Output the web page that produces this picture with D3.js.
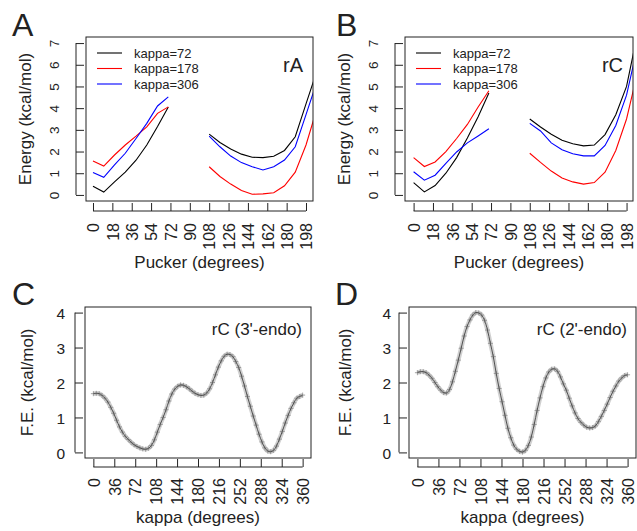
<!DOCTYPE html>
<html>
<head>
<meta charset="utf-8">
<script src="https://d3js.org/d3.v7.min.js"></script>
<style>
body { margin: 0; background: #fff; }
svg { display: block; font-family: 'Liberation Sans', Arial, Helvetica, sans-serif; }
</style>
</head>
<body>
<svg id="fig" width="637" height="531"></svg>
<script>
'use strict';

// pucker samples (degrees), two branches
const puckerLeft = [0, 10, 20, 30, 40, 50, 60, 70];
const puckerRight = [108, 118, 128, 138, 148, 158, 168, 178, 188, 198, 208];

// panel A, rA
const rA72Left = [0.40, 0.13, 0.60, 1.05, 1.60, 2.30, 3.15, 4.05];
const rA178Left = [1.56, 1.33, 1.84, 2.30, 2.71, 3.14, 3.76, 4.06];
const rA306Left = [1.03, 0.81, 1.38, 1.92, 2.60, 3.30, 4.10, 4.52];
const rA72Right = [2.80, 2.42, 2.12, 1.88, 1.74, 1.72, 1.78, 2.05, 2.68, 4.20, 5.70];
const rA178Right = [1.30, 0.85, 0.50, 0.20, 0.03, 0.05, 0.10, 0.42, 1.05, 2.30, 3.95];
const rA306Right = [2.71, 2.22, 1.79, 1.49, 1.30, 1.15, 1.30, 1.61, 2.22, 3.70, 5.20];

// panel B, rC
const rC72Left = [0.57, 0.14, 0.43, 1.00, 1.72, 2.62, 3.60, 4.70];
const rC178Left = [1.72, 1.31, 1.52, 2.00, 2.60, 3.25, 4.05, 4.80];
const rC306Left = [1.07, 0.68, 0.91, 1.45, 1.98, 2.40, 2.72, 3.05];
const rC72Right = [3.50, 3.13, 2.80, 2.52, 2.36, 2.26, 2.30, 2.78, 3.70, 5.00, 7.40];
const rC178Right = [1.92, 1.50, 1.10, 0.78, 0.60, 0.50, 0.57, 1.05, 2.05, 3.50, 5.60];
const rC306Right = [3.30, 2.95, 2.40, 2.08, 1.90, 1.80, 1.80, 2.28, 3.20, 4.60, 6.80];

// kappa samples (degrees) for the free energy profiles
const kappa = [0, 5, 10, 15, 20, 25, 30, 35, 40, 45, 50, 55, 60, 65, 70, 75, 80, 85, 90, 95,
  100, 105, 110, 115, 120, 125, 130, 135, 140, 145, 150, 155, 160, 165, 170, 175, 180, 185, 190, 195,
  200, 205, 210, 215, 220, 225, 230, 235, 240, 245, 250, 255, 260, 265, 270, 275, 280, 285, 290, 295,
  300, 305, 310, 315, 320, 325, 330, 335, 340, 345, 350, 355, 360];

const feC3endo = [1.68, 1.69, 1.68, 1.63, 1.55, 1.44, 1.29, 1.12, 0.92, 0.73,
  0.58, 0.46, 0.37, 0.29, 0.22, 0.17, 0.13, 0.10, 0.09, 0.12,
  0.20, 0.36, 0.58, 0.80, 1.00, 1.22, 1.47, 1.67, 1.81, 1.89,
  1.93, 1.92, 1.88, 1.82, 1.75, 1.69, 1.65, 1.63, 1.64, 1.70,
  1.82, 2.00, 2.22, 2.44, 2.62, 2.75, 2.81, 2.80, 2.74, 2.60,
  2.43, 2.18, 1.90, 1.60, 1.32, 1.04, 0.78, 0.52, 0.30, 0.13,
  0.04, 0.02, 0.06, 0.18, 0.38, 0.60, 0.84, 1.06, 1.26, 1.42,
  1.55, 1.60, 1.64];

const feC2endo = [2.28, 2.31, 2.31, 2.28, 2.21, 2.12, 2.00, 1.88, 1.78, 1.71,
  1.70, 1.80, 2.02, 2.32, 2.64, 2.98, 3.33, 3.60, 3.79, 3.93,
  4.00, 3.99, 3.93, 3.78, 3.50, 3.12, 2.74, 2.26, 1.83, 1.45,
  1.06, 0.69, 0.42, 0.21, 0.09, 0.03, 0.01, 0.06, 0.20, 0.44,
  0.80, 1.20, 1.56, 1.88, 2.13, 2.30, 2.38, 2.39, 2.32, 2.16,
  1.96, 1.78, 1.55, 1.33, 1.13, 0.97, 0.86, 0.78, 0.72, 0.70,
  0.71, 0.76, 0.88, 1.03, 1.20, 1.38, 1.57, 1.75, 1.90, 2.04,
  2.13, 2.20, 2.22];

const puckerTicks = [0, 18, 36, 54, 72, 90, 108, 126, 144, 162, 180, 198];
const energyTicks = [0, 1, 2, 3, 4, 5, 6, 7];
const kappaTicks = [0, 36, 72, 108, 144, 180, 216, 252, 288, 324, 360];
const feTicks = [0, 1, 2, 3, 4];
const legendLabels = ['kappa=72', 'kappa=178', 'kappa=306'];
const seriesColors = ['#000000', '#ff0000', '#0000ff'];

const ink = '#222';
const svg = d3.select('#fig');
let clipCount = 0;

function frame(g, x, y) {
	const [x0, x1] = x.range();
	const [yb, yt] = y.range();
	g.append('rect')
		.attr('x', x0).attr('y', yt)
		.attr('width', x1 - x0).attr('height', yb - yt)
		.attr('fill', 'none').attr('stroke', ink).attr('stroke-width', 1);
}

function clip(g, x, y) {
	const id = 'clip' + (clipCount++);
	const [x0, x1] = x.range();
	const [yb, yt] = y.range();
	g.append('clipPath').attr('id', id)
		.append('rect').attr('x', x0).attr('y', yt).attr('width', x1 - x0).attr('height', yb - yt);
	return g.append('g').attr('clip-path', `url(#${id})`);
}

function bottomAxis(g, x, ticks, yLine, gap, size) {
	const ax = g.append('g')
		.attr('transform', `translate(0,${yLine})`)
		.call(d3.axisBottom(x).tickValues(ticks).tickSize(-8).tickSizeOuter(0).tickFormat(d3.format('d')));
	ax.attr('font-family', null).attr('font-size', null);
	ax.select('.domain').remove();
	ax.append('line')
		.attr('x1', x(ticks[0])).attr('x2', x(ticks[ticks.length - 1]))
		.attr('stroke', ink);
	ax.selectAll('.tick line').attr('stroke', ink);
	ax.selectAll('.tick text')
		.attr('transform', 'rotate(-90)')
		.attr('x', -gap).attr('y', 0).attr('dy', '0.36em')
		.attr('text-anchor', 'end')
		.attr('fill', ink)
		.style('font-size', size + 'px');
}

function leftAxis(g, y, ticks, xLine, gap, size, rotated) {
	const ax = g.append('g')
		.attr('transform', `translate(${xLine},0)`)
		.call(d3.axisLeft(y).tickValues(ticks).tickSize(-8).tickSizeOuter(0)
			.tickPadding(gap).tickFormat(d3.format('d')));
	ax.attr('font-family', null).attr('font-size', null);
	ax.select('.domain').remove();
	ax.append('line')
		.attr('y1', y(ticks[0])).attr('y2', y(ticks[ticks.length - 1]))
		.attr('stroke', ink);
	ax.selectAll('.tick line').attr('stroke', ink);
	const txt = ax.selectAll('.tick text').attr('fill', ink).style('font-size', size + 'px');
	if (rotated) {
		txt.attr('transform', 'rotate(-90)')
			.attr('x', 0).attr('y', -gap).attr('dy', '0.36em')
			.attr('text-anchor', 'middle');
	} else {
		txt.attr('dy', '0.36em');
	}
}

function label(text, x, y, size, opts = {}) {
	const t = svg.append('text')
		.attr('x', x).attr('y', y)
		.attr('fill', opts.fill || ink)
		.attr('text-anchor', opts.anchor || 'start')
		.style('font-size', size + 'px')
		.text(text);
	if (opts.rotate) {
		t.attr('x', 0).attr('y', 0).attr('dy', '0.35em')
			.attr('transform', `translate(${x},${y}) rotate(-90)`);
	}
	return t;
}

function energyPanel(p) {
	const g = svg.append('g');
	const x = d3.scaleLinear().domain(p.xDomain).range([p.left, p.right]);
	const y = d3.scaleLinear().domain([-0.28, 7.28]).range([p.bottom, p.top]);
	const line = d3.line().x(d => x(d[0])).y(d => y(d[1]));
	const plot = clip(g, x, y);

	p.series.forEach((s, i) => {
		plot.append('path')
			.attr('d', line(d3.zip(puckerLeft, s[0])))
			.attr('fill', 'none').attr('stroke', seriesColors[i]).attr('stroke-width', 1.1);
		plot.append('path')
			.attr('d', line(d3.zip(puckerRight, s[1])))
			.attr('fill', 'none').attr('stroke', seriesColors[i]).attr('stroke-width', 1.1);
	});

	frame(g, x, y);
	bottomAxis(g, x, puckerTicks, p.bottom + 10, 12, 16);
	leftAxis(g, y, energyTicks, p.left - 10, 22, 13.5, true);

	// legend
	legendLabels.forEach((l, i) => {
		const ly = p.top + 16 + i * 15.5;
		g.append('line')
			.attr('x1', p.left + 11).attr('x2', p.left + 36)
			.attr('y1', ly).attr('y2', ly)
			.attr('stroke', seriesColors[i]).attr('stroke-width', 1.1);
		g.append('text')
			.attr('x', p.left + 48).attr('y', ly).attr('dy', '0.36em')
			.attr('fill', ink).style('font-size', '13px')
			.text(l);
	});
	label(p.tag, p.right - 10, p.top + 35, 20, { anchor: 'end' });
	label('Pucker (degrees)', (p.left + p.right) / 2, 268, 17, { anchor: 'middle' });
	label('Energy (kcal/mol)', p.left - 61, (p.top + p.bottom) / 2, 17, { anchor: 'middle', rotate: true });
	label(p.letter, p.letterX, 36, 32);
}

function fePanel(p) {
	const g = svg.append('g');
	const x = d3.scaleLinear().domain([-14.4, 374.4]).range([p.left, p.right]);
	const y = d3.scaleLinear().domain([-0.16, 4.16]).range([p.bottom, p.top]);
	const pts = d3.zip(kappa, p.values);
	const plot = clip(g, x, y);

	const curve = d3.line().x(d => x(d[0])).y(d => y(d[1])).curve(d3.curveCatmullRom);
	plot.append('path')
		.attr('d', curve(pts))
		.attr('fill', 'none').attr('stroke', '#b0b0b0').attr('stroke-width', 4.5).attr('stroke-opacity', 0.6);
	plot.append('g')
		.selectAll('path')
		.data(pts)
		.join('path')
		.attr('d', d => `M${x(d[0]) - 2.5},${y(d[1])}h5M${x(d[0])},${y(d[1]) - 2.5}v5`)
		.attr('stroke', '#8a8a8a').attr('stroke-width', 0.8).attr('fill', 'none');
	plot.append('path')
		.attr('d', curve(pts))
		.attr('fill', 'none').attr('stroke', '#505050').attr('stroke-width', 1);

	frame(g, x, y);
	bottomAxis(g, x, kappaTicks, p.bottom + 9, 11, 16);
	leftAxis(g, y, feTicks, p.left - 10, p.yPad, 15.5, false);

	label(p.tag, p.right - 9, p.top + 28, 17, { anchor: 'end' });
	label('kappa (degrees)', (p.left + p.right) / 2, 523, 17, { anchor: 'middle' });
	label('F.E. (kcal/mol)', p.titleX, (p.top + p.bottom) / 2, 17, { anchor: 'middle', rotate: true });
	label(p.letter, p.letterX, 305, 32);
}

energyPanel({
	left: 86, right: 313, top: 37, bottom: 201, xDomain: [-6.5, 204.5],
	series: [[rA72Left, rA72Right], [rA178Left, rA178Right], [rA306Left, rA306Right]],
	tag: 'rA', letter: 'A', letterX: 12
});
energyPanel({
	left: 405, right: 633, top: 37, bottom: 201, xDomain: [-8, 204],
	series: [[rC72Left, rC72Right], [rC178Left, rC178Right], [rC306Left, rC306Right]],
	tag: 'rC', letter: 'B', letterX: 336
});
fePanel({
	left: 85, right: 311, top: 307, bottom: 458, values: feC3endo,
	tag: "rC (3'-endo)", letter: 'C', letterX: 12, yPad: 10, titleX: 27
});
fePanel({
	left: 409, right: 636, top: 307, bottom: 458, values: feC2endo,
	tag: "rC (2'-endo)", letter: 'D', letterX: 335, yPad: 8, titleX: 345
});
</script>
</body>
</html>
